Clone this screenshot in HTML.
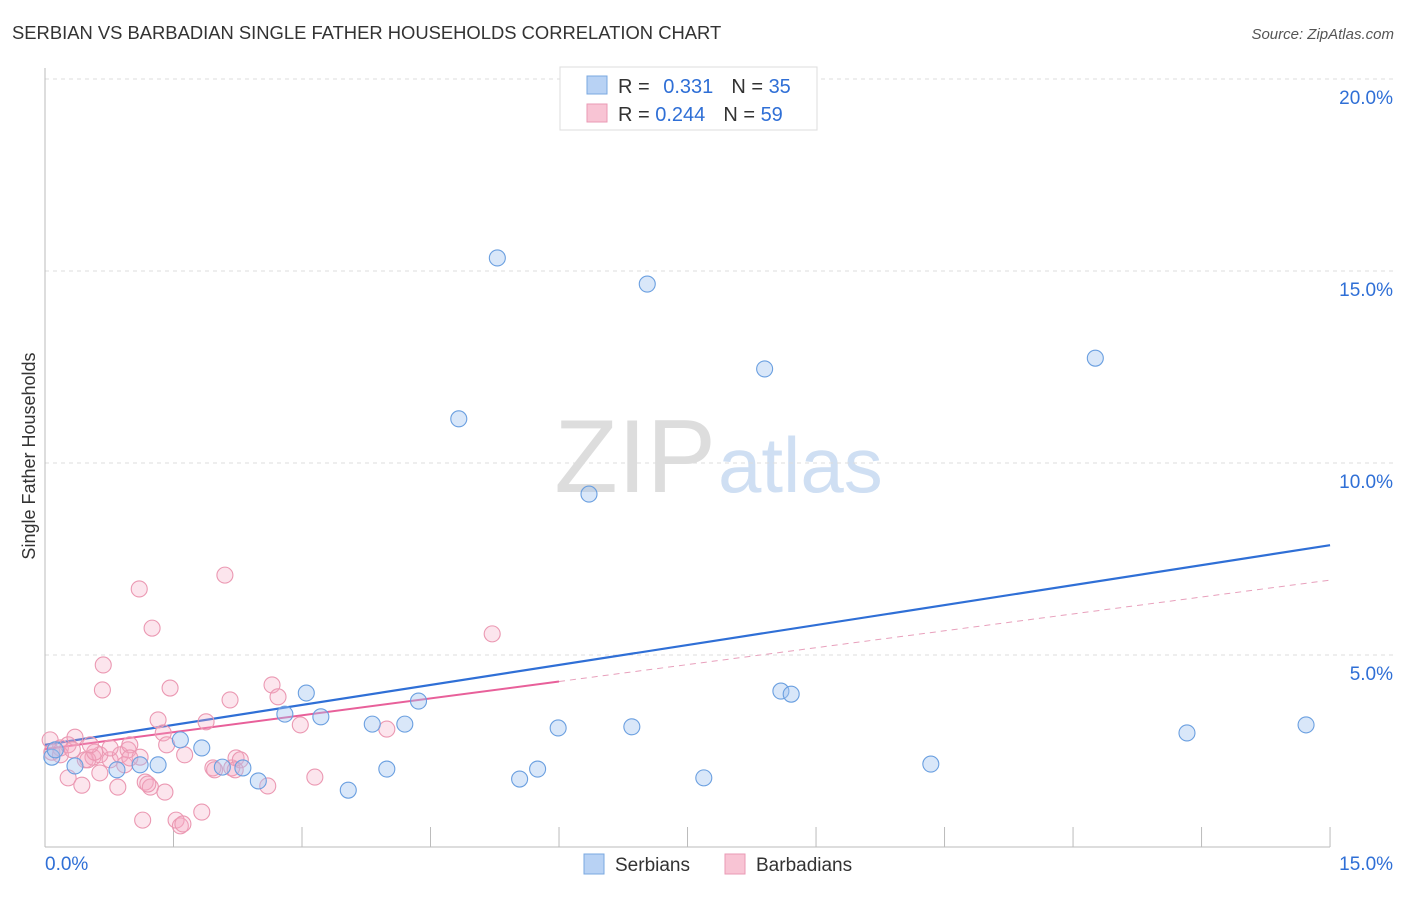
<!DOCTYPE html>
<html><head><meta charset="utf-8"><style>
body{margin:0;background:#fff;font-family:"Liberation Sans",sans-serif}
svg text{font-family:"Liberation Sans",sans-serif}
</style></head><body>
<svg id="chart" width="1406" height="892">
<text x="12" y="39" font-size="18.4" fill="#333">SERBIAN VS BARBADIAN SINGLE FATHER HOUSEHOLDS CORRELATION CHART</text>
<text x="1394" y="39" font-size="15" fill="#555" font-style="italic" text-anchor="end">Source: ZipAtlas.com</text>
<text x="35" y="456" font-size="18" fill="#333" text-anchor="middle" transform="rotate(-90 35 456)">Single Father Households</text>
<text x="716" y="492" font-size="104" fill="#ddd" text-anchor="end" font-family="Liberation Serif">ZIP</text>
<text x="718" y="492" font-size="78" fill="#cfdff3">atlas</text>
<g id="grid"></g><g id="axes"></g><g id="trends"></g><g id="points"></g>
<g>
<rect x="560" y="67" width="257" height="63" fill="#fff" stroke="#ddd"/>
<rect x="587" y="76" width="20" height="18" fill="#b8d2f4" stroke="#7aa8e0"/>
<rect x="587" y="104" width="20" height="18" fill="#f8c4d4" stroke="#ea9ab4"/>
<text x="618" y="93" font-size="20" fill="#333">R = <tspan fill="#2f6fd6" dx="8">0.331</tspan><tspan fill="#333" dx="18">N = </tspan><tspan fill="#2f6fd6">35</tspan></text>
<text x="618" y="121" font-size="20" fill="#333">R = <tspan fill="#2f6fd6">0.244</tspan><tspan fill="#333" dx="18">N = </tspan><tspan fill="#2f6fd6">59</tspan></text>
</g>
<g>
<rect x="584" y="854" width="20" height="20" fill="#b8d2f4" stroke="#7aa8e0"/>
<text x="615" y="871" font-size="19" fill="#333">Serbians</text>
<rect x="725" y="854" width="20" height="20" fill="#f8c4d4" stroke="#ea9ab4"/>
<text x="756" y="871" font-size="19" fill="#333">Barbadians</text>
</g>
</svg>
<script>
const yTicks=[5,10,15,20];
const yTickLabels=["5.0%","10.0%","15.0%","20.0%"];
const xTickLabels=["0.0%","15.0%"];
const serbX=[0.08,0.35,0.84,1.11,1.32,1.58,1.83,2.07,2.31,2.49,2.80,3.05,3.22,3.54,3.82,3.99,4.20,4.36,4.83,5.28,5.54,5.75,5.99,6.35,6.85,7.03,7.69,8.40,8.59,8.71,10.34,12.26,13.33,14.72,0.12];
const serbY=[2.34,2.11,2.01,2.14,2.14,2.79,2.58,2.08,2.06,1.72,3.46,4.01,3.39,1.48,3.20,2.03,3.20,3.80,11.15,15.34,1.77,2.03,3.10,9.19,3.13,14.66,1.80,12.45,4.06,3.98,2.16,12.73,2.97,3.18,2.53];
const barbX=[0.08,0.18,0.27,0.35,0.47,0.56,0.64,0.68,0.27,0.43,0.67,0.64,0.76,0.85,0.88,0.97,0.99,1.10,1.11,1.17,1.23,1.25,1.32,1.38,1.40,1.42,1.46,1.53,1.58,1.61,1.63,1.83,1.88,1.96,1.98,2.10,2.16,2.18,2.23,2.28,2.60,2.65,2.72,2.98,3.15,3.99,5.22,1.14,0.50,0.58,0.76,0.93,0.18,0.06,0.99,0.32,2.22,1.20,0.53];
const barbY=[2.47,2.58,2.66,2.86,2.27,2.34,2.40,4.74,1.80,1.61,4.09,1.93,2.27,1.56,2.40,2.53,2.66,6.72,2.34,1.69,1.56,5.70,3.31,2.97,1.43,2.66,4.14,0.70,0.55,0.60,2.40,0.91,3.26,2.06,2.01,7.08,3.83,2.06,2.32,2.27,1.59,4.22,3.91,3.18,1.82,3.07,5.55,0.70,2.27,2.47,2.58,2.14,2.40,2.79,2.32,2.53,2.01,1.64,2.66];
const serbTrend=[2.66,7.86];
const barbTrend=[2.55,6.95];
const barbSolidEnd=6;
const NS="http://www.w3.org/2000/svg";
const xs=v=>45+v*85.67, ys=v=>847-v*38.4;
function mk(t,a,p){const e=document.createElementNS(NS,t);for(const k in a)e.setAttribute(k,a[k]);p.appendChild(e);return e;}
const grid=document.getElementById('grid'),axes=document.getElementById('axes'),tr=document.getElementById('trends'),pts=document.getElementById('points');
yTicks.forEach((t,i)=>{
 const l=mk('line',{x1:45,x2:1394,y1:ys(t),y2:ys(t),stroke:'#ddd','stroke-dasharray':'4 4'},grid);
 
 
 const tx=mk('text',{x:1393,y:ys(t)+25,'font-size':19,fill:'#2f6fd6','text-anchor':'end'},grid);
 tx.textContent=yTickLabels[i];
 
 
});
const ya=mk('line',{x1:45,x2:45,y1:68,y2:847,stroke:'#bbb'},axes);


const xa=mk('line',{x1:45,x2:1330,y1:847,y2:847,stroke:'#bbb'},axes);


for(let i=0;i<=10;i++){const v=i*1.5;const t=mk('line',{x1:xs(v),x2:xs(v),y1:827,y2:847,stroke:'#bbb'},axes);
 
 }
[[0,'start'],[15,'end']].forEach((d,i)=>{const t=mk('text',{x:xs(d[0])+(i?63:0),y:870,'font-size':19,fill:'#2f6fd6','text-anchor':d[1]},axes);t.textContent=xTickLabels[i];
 
 });
function circ(x,y,fill,stroke,name){const c=mk('circle',{cx:xs(x),cy:ys(y),r:8,fill:fill,stroke:stroke,'stroke-width':1.1},pts);
 
 }
barbX.forEach((x,i)=>circ(x,barbY[i],'rgba(245,170,195,0.3)','#eb98b2','barbadian-point'));
serbX.forEach((x,i)=>circ(x,serbY[i],'rgba(160,196,240,0.4)','#6a9fe0','serbian-point'));
const bt=v=>barbTrend[0]+(barbTrend[1]-barbTrend[0])*v/15;
const p1=mk('line',{x1:xs(0),y1:ys(bt(0)),x2:xs(barbSolidEnd),y2:ys(bt(barbSolidEnd)),stroke:'#e8609a','stroke-width':2},tr);


const p2=mk('line',{x1:xs(barbSolidEnd),y1:ys(bt(barbSolidEnd)),x2:xs(15),y2:ys(bt(15)),stroke:'#e8a0bc','stroke-width':1,'stroke-dasharray':'6 5'},tr);


const s1=mk('line',{x1:xs(0),y1:ys(serbTrend[0]),x2:xs(15),y2:ys(serbTrend[1]),stroke:'#2f6fd6','stroke-width':2.2},tr);


</script>
</body></html>
